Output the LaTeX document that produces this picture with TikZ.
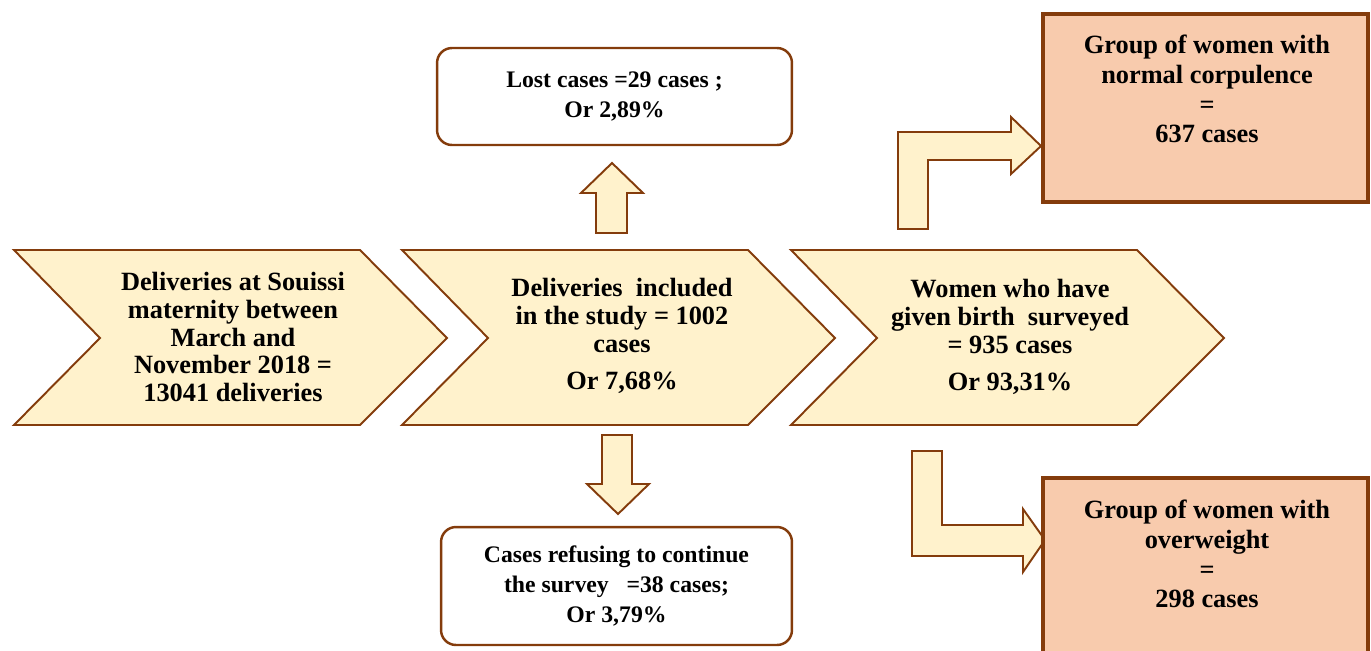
\documentclass[tikz,border=0pt]{standalone}
\usepackage{fontspec}
\setmainfont{Liberation Serif}
\usetikzlibrary{positioning}

\definecolor{chevfill}{HTML}{FFF2CC}
\definecolor{brownline}{HTML}{843C0C}
\definecolor{groupfill}{HTML}{F8CBAD}

\tikzset{
  chev/.style={draw=brownline, fill=chevfill, line width=1.1pt, line join=miter},
  blockarrow/.style={draw=brownline, fill=chevfill, line width=1.1pt, line join=miter},
  casebox/.style={draw=brownline, fill=white, line width=1.4pt, rounded corners=8.5pt,
    align=center, font=\bfseries\fontsize{13.5}{17}\selectfont},
  groupbox/.style={draw=brownline, fill=groupfill, line width=1.9pt},
  chevtext/.style={align=center, inner sep=0pt, font=\bfseries\fontsize{15}{15.9}\selectfont},
  grouptext/.style={align=center, inner sep=0pt, font=\bfseries\fontsize{15}{17}\selectfont}
}

\begin{document}
\begin{tikzpicture}[x=0.02cm, y=-0.02cm]
  \useasboundingbox (0,0) rectangle (1371,650);

  % the three chevrons
  \foreach \dx in {0,388,777}
    \draw[chev, shift={(\dx,0)}] (14,250) -- (360,250) -- (447,338) -- (360,425) -- (14,425) -- (100,338) -- cycle;

  \node[chevtext] (souissi) at (233,337) {Deliveries at Souissi\\maternity between\\March and\\November 2018 =\\13041 deliveries};
  \node[chevtext] (included) at (622,336) {Deliveries~ included\\in the study = 1002\\cases\\[5.5pt]Or 7,68\%};
  \node[chevtext] (surveyed) at (1010,337) {Women who have\\given birth~ surveyed\\= 935 cases\\[5.5pt]Or 93,31\%};

  % lost and refusing cases
  \node[casebox, minimum width=7.1cm, minimum height=1.94cm] (lost) at (614.5,96.5) {Lost cases =29 cases ;\\Or 2,89\%};
  \node[casebox, minimum width=7.02cm, minimum height=2.36cm] (refused) at (616.5,586) {Cases refusing to continue\\the survey~~~=38 cases;\\Or 3,79\%};

  \draw[blockarrow] (596,233) -- (596,193) -- (581,193) -- (612,163) -- (643,193) -- (627,193) -- (627,233) -- cycle;
  \draw[blockarrow] (602,435) -- (602,484) -- (587,484) -- (618,514) -- (649,484) -- (632,484) -- (632,435) -- cycle;

  % bent arrows to the two groups
  \draw[blockarrow] (898,229) -- (898,132) -- (1011,132) -- (1011,117) -- (1041,146) -- (1011,174) -- (1011,160) -- (928,160) -- (928,229) -- cycle;
  \draw[blockarrow] (912,451) -- (912,556) -- (1023,556) -- (1023,572) -- (1045,540) -- (1023,509) -- (1023,525) -- (942,525) -- (942,451) -- cycle;

  \draw[groupbox] (1043,14) rectangle (1368,202);
  \draw[groupbox] (1043,478) rectangle (1368,690);
  \node[grouptext] (normal) at (1207,89) {Group of women with\\normal corpulence\\=\\637 cases};
  \node[grouptext] (overweight) at (1207,554) {Group of women with\\overweight\\=\\298 cases};
\end{tikzpicture}
\end{document}
